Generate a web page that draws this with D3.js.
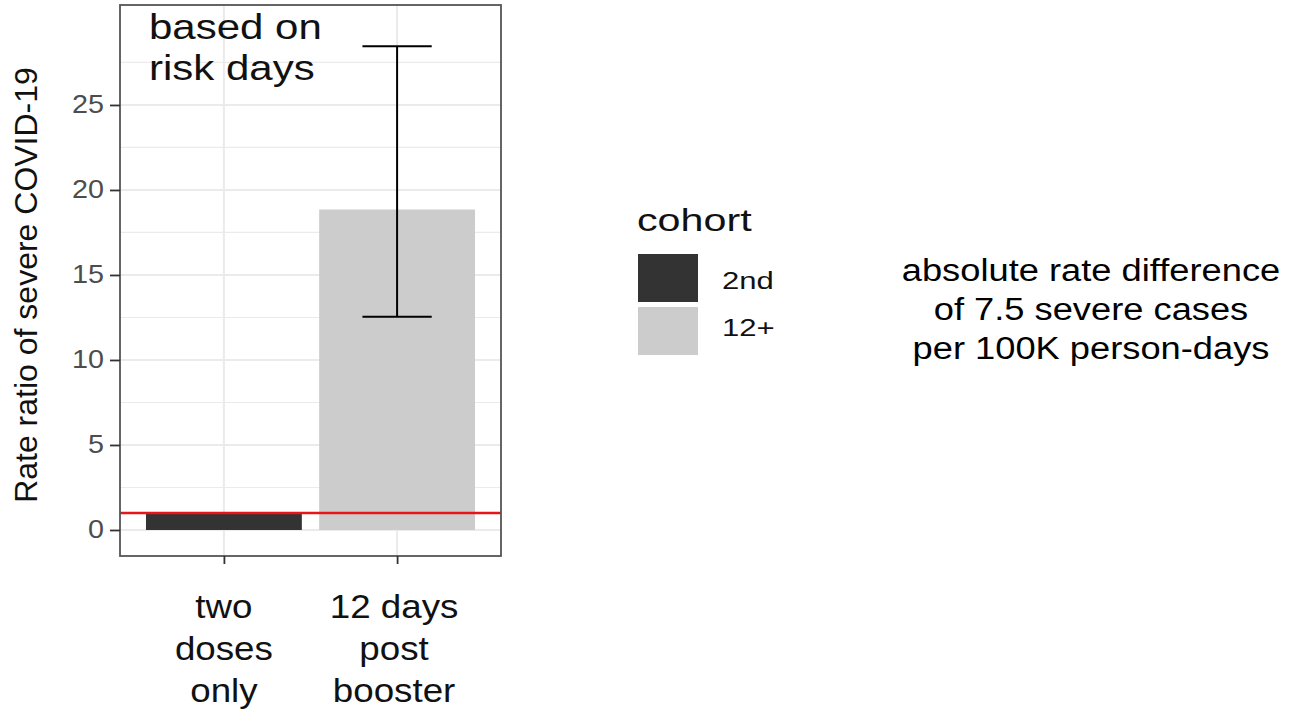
<!DOCTYPE html>
<html>
<head>
<meta charset="utf-8">
<script src="https://cdn.jsdelivr.net/npm/d3@7"></script>
<style>
body{margin:0;background:#fff;}
svg{display:block;}
text{font-family:"Liberation Sans", Arial, sans-serif;}
</style>
</head>
<body>
<svg id="chart" width="1307" height="711"></svg>
<script>
// data
var categories = ["two doses only", "12 days post booster"]
var catLines = [["two", "doses", "only"], ["12 days", "post", "booster"]]
var cohorts = ["2nd", "12+"]
var rateRatio = [1.0, 18.85]
var ciLow = [null, 12.55]
var ciHigh = [null, 28.45]
var yTicks = [0, 5, 10, 15, 20, 25]
var yMinor = [2.5, 7.5, 12.5, 17.5, 22.5, 27.5]
var refLine = 1
var note = ["based on", "risk days"]
var sideNote = ["absolute rate difference", "of 7.5 severe cases", "per 100K person-days"]

var svg = d3.select('#chart')
var L = 120, R = 501, T = 5, B = 556

var x = d3.scalePoint().domain(categories).range([L, R]).padding(0.6)
var step = x.step()
var y = d3.scaleLinear().domain([-1.53, 30.88]).range([B, T])
var fill = d3.scaleOrdinal().domain(cohorts).range(['#333333', '#cccccc'])

// stretch text horizontally like the source picture
function stretch(sel, k){
  sel.each(function(){
    var len = this.getComputedTextLength()
    d3.select(this).attr('textLength', len*k).attr('lengthAdjust', 'spacingAndGlyphs')
  })
}

// grid
var g = svg.append('g')
g.selectAll('.minor').data(yMinor).enter().append('line')
  .attr('x1', L).attr('x2', R).attr('y1', d => y(d)).attr('y2', d => y(d))
  .attr('stroke', '#ebebeb').attr('stroke-width', 1.2)
g.selectAll('.major').data(yTicks).enter().append('line')
  .attr('x1', L).attr('x2', R).attr('y1', d => y(d)).attr('y2', d => y(d))
  .attr('stroke', '#ebebeb').attr('stroke-width', 2)
g.selectAll('.vmaj').data(categories).enter().append('line')
  .attr('x1', d => x(d)).attr('x2', d => x(d)).attr('y1', T).attr('y2', B)
  .attr('stroke', '#ebebeb').attr('stroke-width', 2)

// bars
g.selectAll('.bar').data(categories).enter().append('rect')
  .attr('x', d => x(d) - step*0.45)
  .attr('width', step*0.9)
  .attr('y', (d,i) => y(rateRatio[i]))
  .attr('height', (d,i) => y(0) - y(rateRatio[i]))
  .attr('fill', (d,i) => fill(cohorts[i]))

// error bars
categories.forEach(function(c,i){
  if(ciLow[i] == null) return
  var cx = x(c), hw = step*0.2
  g.append('line').attr('x1', cx).attr('x2', cx).attr('y1', y(ciLow[i])).attr('y2', y(ciHigh[i]))
    .attr('stroke', '#000').attr('stroke-width', 2)
  ;[ciLow[i], ciHigh[i]].forEach(function(v){
    g.append('line').attr('x1', cx-hw).attr('x2', cx+hw).attr('y1', y(v)).attr('y2', y(v))
      .attr('stroke', '#000').attr('stroke-width', 2)
  })
})

// reference line
g.append('line').attr('x1', L).attr('x2', R).attr('y1', y(refLine)).attr('y2', y(refLine))
  .attr('stroke', '#e8141b').attr('stroke-width', 2.4)

// panel border
g.append('rect').attr('x', L).attr('y', T).attr('width', R-L).attr('height', B-T)
  .attr('fill', 'none').attr('stroke', '#555').attr('stroke-width', 1.8)

// y axis
var ya = svg.append('g').attr('transform', 'translate(' + L + ',0)')
  .call(d3.axisLeft(y).tickValues(yTicks).tickSize(10).tickPadding(6))
ya.select('.domain').remove()
ya.selectAll('.tick line').attr('stroke', '#333').attr('stroke-width', 1.8)
ya.selectAll('.tick text').attr('fill', '#4d4d4d').style('font-size', '25px')
  .style('font-family', '"Liberation Sans", Arial, sans-serif')
stretch(ya.selectAll('.tick text'), 1.15)

// x axis
var xa = svg.append('g').attr('transform', 'translate(0,' + B + ')')
  .call(d3.axisBottom(x).tickSize(8).tickFormat(''))
xa.select('.domain').remove()
xa.selectAll('.tick line').attr('stroke', '#333').attr('stroke-width', 1.8)
categories.forEach(function(c,i){
  catLines[i].forEach(function(s,j){
    var t = svg.append('text').attr('x', x(c) - 3*i).attr('y', 618 + j*42)
      .attr('text-anchor', 'middle').style('font-size', '34px').attr('fill', '#111').text(s)
    stretch(t, 1.08)
  })
})

// y title
var yt = svg.append('text').attr('transform', 'translate(37,285) rotate(-90)')
  .attr('text-anchor', 'middle').style('font-size', '32px').attr('fill', '#111')
  .text('Rate ratio of severe COVID-19')

// in-panel note
note.forEach(function(s,j){
  var t = svg.append('text').attr('x', 149).attr('y', 39 + j*41)
    .style('font-size', '35px').attr('fill', '#111').text(s)
  stretch(t, 1.2)
})

// legend
var lg = svg.append('g')
var lt = lg.append('text').attr('x', 637).attr('y', 231).style('font-size', '31px').attr('fill', '#111').text('cohort')
stretch(lt, 1.33)
cohorts.forEach(function(c,i){
  lg.append('rect').attr('x', 638).attr('y', 254 + i*53).attr('width', 60).attr('height', 48).attr('fill', fill(c))
  var t = lg.append('text').attr('x', 722).attr('y', 289 + i*47).style('font-size', '23px').attr('fill', '#111').text(c)
  stretch(t, 1.35)
})

// side note
sideNote.forEach(function(s,j){
  var t = svg.append('text').attr('x', 1091).attr('y', 281 + j*39)
    .attr('text-anchor', 'middle').style('font-size', '31px').attr('fill', '#000').text(s)
  stretch(t, 1.17)
})
</script>
</body>
</html>
